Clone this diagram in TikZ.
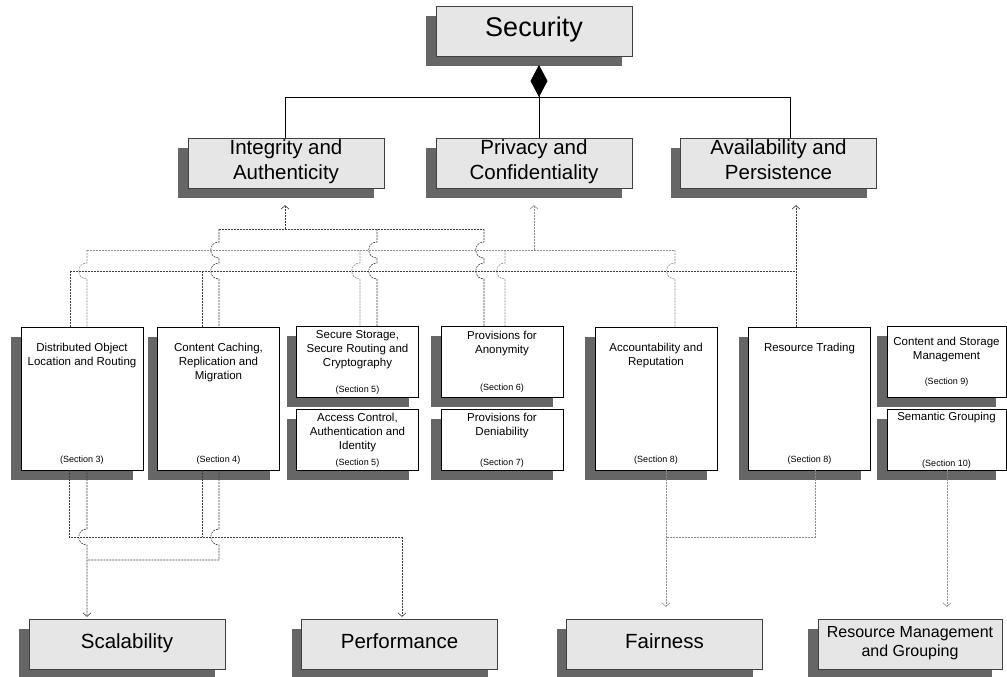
\documentclass[tikz,border=0pt]{standalone}
\usepackage{fontspec}
\setmainfont{Liberation Sans}
\usetikzlibrary{positioning,shadows,arrows.meta}

\definecolor{shadegray}{HTML}{666666}
\definecolor{propfill}{HTML}{E6E6E6}
\definecolor{linegray}{HTML}{8C8C8C}
\definecolor{linedark}{HTML}{3A3A3A}

% jump of a vertical line over a horizontal one
\newcommand{\hopover}[2]{-- ([yshift=8pt]#1 |- #2) .. controls +(-11,0) and +(-11,0) .. ([yshift=-8pt]#1 |- #2)}

\tikzset{
  shadowed/.style={general shadow={fill=shadegray, shadow xshift=-10pt, shadow yshift=-10pt}},
  propbox/.style={rectangle, draw=black!75, fill=propfill, shadowed, inner sep=0pt,
    minimum width=196pt, minimum height=50pt, align=center, font=\fontsize{20.5}{24.5}\selectfont,
    execute at begin node=\strut, execute at end node=\strut},
  topicbox/.style={rectangle, draw=black, fill=white, shadowed, inner sep=0pt, minimum width=122pt},
  topictext/.style={inner sep=0pt, align=center, font=\fontsize{11.5}{14}\selectfont},
  secttext/.style={inner sep=0pt, anchor=base, font=\fontsize{9}{11}\selectfont},
  busdark/.style={draw=linedark, line width=0.6pt, dash pattern=on 2pt off 1pt},
  busgray/.style={draw=linegray, line width=0.6pt, dash pattern=on 2pt off 1pt},
  >={Straight Barb[length=3.5pt,width=8pt]},
}

\begin{document}
\begin{tikzpicture}[x=1pt, y=-1pt]
\useasboundingbox (0,0) rectangle (1007,677);

% properties
\node (secu) at (534,31) [propbox, font=\fontsize{27}{29}\selectfont] {Security};
\node (integ) at (286,163) [propbox] {Integrity and\\Authenticity};
\node (priv) at (534,163) [propbox] {Privacy and\\Confidentiality};
\node (avail) at (778.5,163) [propbox] {Availability and\\Persistence};

\node (scal) at (127,644) [propbox] {Scalability};
\node (perf) at (399.5,644) [propbox] {Performance};
\node (fair) at (664.5,644) [propbox] {Fairness};
\node (resm) at (910,644) [propbox, minimum width=184pt, font=\fontsize{16}{19}\selectfont] {Resource Management\\and Grouping};

% topics
\node (dist) at (82,398.5) [topicbox, minimum height=143pt] {};
\node (cach) at (218.5,398.5) [topicbox, minimum height=143pt] {};
\node (stor) at (357.5,361.5) [topicbox, minimum height=71pt] {};
\node (acc) at (357.5,439.5) [topicbox, minimum height=61pt] {};
\node (anon) at (502,361.5) [topicbox, minimum height=71pt] {};
\node (deni) at (502,439.5) [topicbox, minimum height=61pt] {};
\node (acct) at (656,398.5) [topicbox, minimum height=143pt] {};
\node (trad) at (809.5,398.5) [topicbox, minimum height=143pt] {};
\node (mgmt) at (946.5,361.5) [topicbox, minimum width=119pt, minimum height=71pt] {};
\node (sem) at (946.5,439.5) [topicbox, minimum width=119pt, minimum height=61pt] {};

\node (distT) [topictext, below=16pt of dist.north] {Distributed Object\\Location and Routing};
\node (cachT) [topictext, below=16pt of cach.north] {Content Caching,\\Replication and\\Migration};
\node (storT) [topictext, below=4pt of stor.north] {Secure Storage,\\Secure Routing and\\Cryptography};
\node (accT) [topictext, below=4.5pt of acc.north] {Access Control,\\Authentication and\\Identity};
\node (anonT) [topictext, below=5pt of anon.north] {Provisions for\\Anonymity};
\node (deniT) [topictext, below=4.5pt of deni.north] {Provisions for\\Deniability};
\node (acctT) [topictext, below=16pt of acct.north] {Accountability and\\Reputation};
\node (tradT) [topictext, below=16pt of trad.north] {Resource Trading};
\node (mgmtT) [topictext, below=11pt of mgmt.north] {Content and Storage\\Management};
\node (semT) [topictext, below=3pt of sem.north] {Semantic Grouping};

\node (distS) [secttext] at ([yshift=8pt]dist.south) {(Section 3)};
\node (cachS) [secttext] at ([yshift=8pt]cach.south) {(Section 4)};
\node (storS) [secttext] at ([yshift=4.5pt]stor.south) {(Section 5)};
\node (accS) [secttext] at ([yshift=5pt]acc.south) {(Section 5)};
\node (anonS) [secttext] at ([yshift=6.5pt]anon.south) {(Section 6)};
\node (deniS) [secttext] at ([yshift=5pt]deni.south) {(Section 7)};
\node (acctS) [secttext] at ([yshift=8pt]acct.south) {(Section 8)};
\node (tradS) [secttext] at ([yshift=8pt]trad.south) {(Section 8)};
\node (mgmtS) [secttext] at ([yshift=13pt]mgmt.south) {(Section 9)};
\node (semS) [secttext] at ([yshift=4pt]sem.south) {(Section 10)};

% composition
\coordinate (agg) at (539,65);
\coordinate (busL) at (285,97);
\coordinate (busR) at (790,97);
\draw[line width=0.8pt, {Diamond[length=32pt,width=17pt]}-] (agg) -- (agg |- priv.north);
\draw[line width=0.8pt] (busL |- integ.north) -- (busL) -- (busR) -- (busR |- avail.north);

% buses to the properties
\coordinate (iA) at (219,229);
\coordinate (iUp) at (285,229);
\coordinate (iB) at (377,229);
\coordinate (iC) at (484,229);
\coordinate (pA) at (87,250);
\coordinate (pB) at (360,250);
\coordinate (pC) at (505,250);
\coordinate (pUp) at (534,250);
\coordinate (pD) at (675,250);
\coordinate (aA) at (70,271);
\coordinate (aB) at (202,271);
\coordinate (aUp) at (796,271);

\draw[busdark] (iA) -- (iC);
\draw[busdark, ->, shorten >=17pt] (iUp) -- (iUp |- integ.south);
\draw[busdark] (iA) \hopover{iA}{pA} \hopover{iA}{aA} -- (iA |- cach.north);
\draw[busdark] (iB) \hopover{iB}{pA} \hopover{iB}{aA} -- (iB |- stor.north);
\draw[busdark] (iC) \hopover{iC}{pA} \hopover{iC}{aA} -- (iC |- anon.north);

\draw[busgray] (pA) -- (pD);
\draw[busgray, ->, shorten >=17pt] (pUp) -- (pUp |- priv.south);
\draw[busgray] (pA) \hopover{pA}{aA} -- (pA |- dist.north);
\draw[busgray] (pB) \hopover{pB}{aA} -- (pB |- stor.north);
\draw[busgray] (pC) \hopover{pC}{aA} -- (pC |- anon.north);
\draw[busgray] (pD) \hopover{pD}{aA} -- (pD |- acct.north);

\draw[busdark] (aA) -- (aUp);
\draw[busdark, ->, shorten >=17pt] (aUp |- trad.north) -- (aUp |- avail.south);
\draw[busdark] (aA) -- (aA |- dist.north);
\draw[busdark] (aB) -- (aB |- cach.north);

% buses to the lower properties
\coordinate (perfA) at (69,537);
\coordinate (perfB) at (202,537);
\coordinate (perfC) at (402,537);
\coordinate (scalA) at (87,560);
\coordinate (scalB) at (219,560);
\coordinate (fairA) at (666,537);
\coordinate (fairB) at (815,537);
\coordinate (resmA) at (947,537);

\draw[busdark] (perfA |- dist.south) -- (perfA) -- (perfC);
\draw[busdark, ->, shorten >=2pt] (perfC) -- (perfC |- perf.north);
\draw[busdark] (perfB |- cach.south) -- (perfB);
\draw[busdark, ->, shorten >=2pt] (scalA |- dist.south) \hopover{scalA}{perfA} -- (scalA |- scal.north);
\draw[busdark] (scalB |- cach.south) \hopover{scalB}{perfA} -- (scalB) -- (scalA);

\draw[busgray, ->, shorten >=12pt] (fairA |- acct.south) -- (fairA |- fair.north);
\draw[busgray] (fairB |- trad.south) -- (fairB) -- (fairA);
\draw[busgray, ->, shorten >=12pt] (resmA |- sem.south) -- (resmA |- resm.north);

\end{tikzpicture}
\end{document}
